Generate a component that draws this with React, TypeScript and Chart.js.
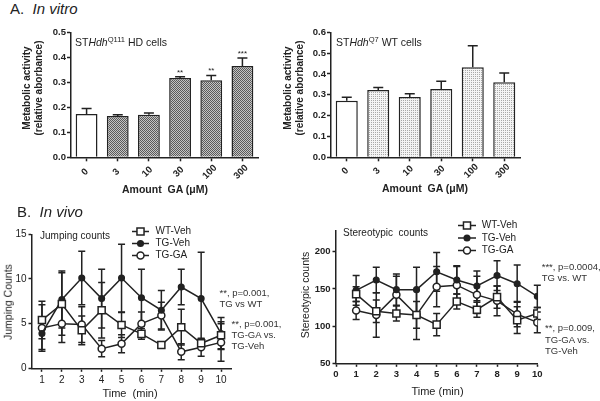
import React, { useEffect, useRef } from "react";
import { Chart, registerables } from "chart.js";

Chart.register(...registerables);

const FONT = "'Liberation Sans', Arial, Helvetica, sans-serif";
const INK = "#222";
Chart.defaults.font.family = FONT;
Chart.defaults.color = INK;

// ---------- Panel A data ----------
const doseLabels = ["0", "3", "10", "30", "100", "300"];
const hdValues = [0.173, 0.165, 0.17, 0.317, 0.308, 0.365];
const hdErrors = [0.022, 0.005, 0.007, 0.005, 0.019, 0.032];
const hdStars = ["", "", "", "**", "**", "***"];
const wtValues = [0.272, 0.323, 0.29, 0.328, 0.432, 0.36];
const wtErrors = [0.016, 0.012, 0.015, 0.037, 0.103, 0.045];

// ---------- Panel B data ----------
const minutes = [1, 2, 3, 4, 5, 6, 7, 8, 9, 10];
const seriesNames = ["WT-Veh", "TG-Veh", "TG-GA"];
const jumpWT = [5.4, 7.2, 4.25, 6.5, 4.85, 3.85, 2.6, 4.6, 2.8, 3.7];
const jumpWTErr = [2.1, 3.5, 1.6, 3.1, 1.4, 0.6, 0.3, 2.0, 0.5, 1.5];
const jumpTG = [3.9, 7.7, 10.1, 7.8, 10.1, 7.9, 6.5, 9.1, 7.8, 3.9];
const jumpTGErr = [1.8, 3.2, 3.0, 3.3, 3.8, 3.2, 2.2, 2.0, 5.2, 1.8];
const jumpGA = [4.5, 5.0, 4.9, 2.2, 2.75, 5.0, 5.9, 1.85, 2.35, 2.9];
const jumpGAErr = [2.6, 2.1, 2.0, 0.9, 1.0, 1.3, 1.5, 0.9, 1.0, 2.1];

const stereoWT = [143, 120, 117, 115, 102, 133, 122, 139, 108, 117];
const stereoWTErr = [10, 15, 10, 18, 15, 10, 10, 15, 18, 8];
const stereoTG = [148, 162, 149, 149, 173, 162, 154, 168, 157, 140];
const stereoTGErr = [20, 17, 21, 30, 26, 19, 20, 20, 25, 15];
const stereoGA = [121, 115, 142, 115, 153, 155, 142, 134, 116, 105];
const stereoGAErr = [12, 30, 25, 33, 27, 25, 25, 20, 17, 14];

const jumpTicksX = [1, 2, 3, 4, 5, 6, 7, 8, 9, 10];
const jumpTicksY = [0, 5, 10, 15];
const stereoTicksX = [0, 1, 2, 3, 4, 5, 6, 7, 8, 9, 10];
const stereoTicksY = [50, 100, 150, 200];

type Frame = { cx: number; cy: number; cw: number; ch: number; L: number; T: number; R: number; B: number };

function frameLayout(f: Frame) {
  return {
    padding: { left: 0, top: f.T - f.cy, right: f.cx + f.cw - f.R, bottom: 0 },
    yWidth: f.L - f.cx,
    xHeight: f.cy + f.ch - f.B,
  };
}

const frameTL: Frame = { cx: 40, cy: 20, cw: 228, ch: 165, L: 71, T: 32.3, R: 258, B: 157.3 };
const frameTR: Frame = { cx: 305, cy: 20, cw: 225, ch: 165, L: 331, T: 32.3, R: 520, B: 157.3 };
const frameBL: Frame = { cx: 0, cy: 215, cw: 240, ch: 186, L: 32, T: 234.3, R: 231, B: 368.3 };
const frameBR: Frame = { cx: 310, cy: 215, cw: 235, ch: 186, L: 336, T: 230.9, R: 537.3, B: 363.3 };

function valueOf(d: any): number {
  return typeof d === "number" ? d : d.y;
}

function drawErrors(chart: any, opts: any) {
  const ctx = chart.ctx;
  const ys = chart.scales.y;
  const cap = opts.cap || 4;
  ctx.save();
  ctx.strokeStyle = INK;
  ctx.lineWidth = 1.5;
  chart.data.datasets.forEach((ds: any, di: number) => {
    const errs = ds.errors;
    if (!errs) return;
    const meta = chart.getDatasetMeta(di);
    meta.data.forEach((el: any, i: number) => {
      const v = valueOf(ds.data[i]);
      const e = errs[i];
      const x = el.x;
      const yTop = ys.getPixelForValue(v + e);
      const yBot = opts.mode === "up" ? ys.getPixelForValue(v) : ys.getPixelForValue(v - e);
      ctx.beginPath();
      ctx.moveTo(x, yTop);
      ctx.lineTo(x, yBot);
      ctx.moveTo(x - cap, yTop);
      ctx.lineTo(x + cap, yTop);
      if (opts.mode !== "up") {
        ctx.moveTo(x - cap, yBot);
        ctx.lineTo(x + cap, yBot);
      }
      ctx.stroke();
    });
  });
  ctx.restore();
}

const errorBarPlugin = {
  id: "errorBars",
  beforeDatasetsDraw(chart: any, _a: any, opts: any) {
    if (opts && opts.mode === "both") drawErrors(chart, opts);
  },
  afterDatasetsDraw(chart: any, _a: any, opts: any) {
    if (opts && opts.mode === "up") drawErrors(chart, opts);
  },
};

const rotLabelPlugin = {
  id: "rotLabels",
  afterDraw(chart: any, _a: any, opts: any) {
    if (!opts || opts.y == null) return;
    const ctx = chart.ctx;
    const xs = chart.scales.x;
    ctx.save();
    ctx.font = `bold 9.5px ${FONT}`;
    ctx.fillStyle = INK;
    ctx.textAlign = "center";
    ctx.textBaseline = "middle";
    (chart.data.labels as string[]).forEach((lab, i) => {
      const x = xs.getPixelForValue(i) - 1.5;
      ctx.save();
      ctx.translate(x, opts.y);
      ctx.rotate(-Math.PI / 4);
      ctx.fillText(lab, 0, 0);
      ctx.restore();
    });
    ctx.restore();
  },
};

const starPlugin = {
  id: "stars",
  afterDraw(chart: any, _a: any, opts: any) {
    if (!opts || !opts.labels) return;
    const ctx = chart.ctx;
    const ys = chart.scales.y;
    const ds = chart.data.datasets[0];
    const meta = chart.getDatasetMeta(0);
    ctx.save();
    ctx.font = `8px ${FONT}`;
    ctx.fillStyle = INK;
    ctx.textAlign = "center";
    ctx.textBaseline = "middle";
    meta.data.forEach((el: any, i: number) => {
      const s = opts.labels[i];
      if (!s) return;
      const y = ys.getPixelForValue(ds.data[i] + ds.errors[i]) - 4.5;
      ctx.fillText(s, el.x, y);
    });
    ctx.restore();
  },
};

function drawMarker(ctx: CanvasRenderingContext2D, style: string, x: number, y: number, r: number, fill: string) {
  ctx.beginPath();
  if (style === "rect") {
    const s = r * Math.SQRT1_2;
    ctx.rect(x - s, y - s, 2 * s, 2 * s);
  } else {
    ctx.arc(x, y, r, 0, Math.PI * 2);
  }
  ctx.fillStyle = fill;
  ctx.fill();
  ctx.stroke();
}

const legendPlugin = {
  id: "markLegend",
  afterDraw(chart: any, _a: any, opts: any) {
    if (!opts || !opts.rows) return;
    const ctx = chart.ctx;
    ctx.save();
    ctx.strokeStyle = INK;
    ctx.lineWidth = 1.5;
    ctx.font = `10px ${FONT}`;
    ctx.textBaseline = "middle";
    ctx.textAlign = "left";
    opts.rows.forEach((y: number, i: number) => {
      const ds = chart.data.datasets[i];
      ctx.beginPath();
      ctx.moveTo(opts.x0, y);
      ctx.lineTo(opts.x1, y);
      ctx.stroke();
      drawMarker(ctx, ds.pointStyle, (opts.x0 + opts.x1) / 2, y, ds.pointRadius, ds.pointBackgroundColor);
      ctx.fillStyle = INK;
      ctx.fillText(ds.label, opts.tx, y);
    });
    ctx.restore();
  },
};

function makePattern(ctx: CanvasRenderingContext2D, cells: string[][]) {
  const c = document.createElement("canvas");
  c.height = cells.length;
  c.width = cells[0].length;
  const g = c.getContext("2d")!;
  cells.forEach((row, y) =>
    row.forEach((col, x) => {
      g.fillStyle = col;
      g.fillRect(x, y, 1, 1);
    })
  );
  return ctx.createPattern(c, "repeat");
}

function barConfig(f: Frame, values: number[], errors: number[], maxY: number, fill: any, stars: string[] | null, rotY: number) {
  const lay = frameLayout(f);
  return {
    type: "bar",
    data: {
      labels: doseLabels,
      datasets: [
        {
          data: values,
          errors,
          backgroundColor: values.map((_, i) => (i === 0 ? "#ffffff" : fill)),
          borderColor: INK,
          borderWidth: 1.5,
          barPercentage: 0.7,
          categoryPercentage: 1,
        },
      ],
    },
    options: {
      responsive: false,
      animation: false,
      events: [],
      layout: { padding: lay.padding },
      plugins: {
        legend: { display: false },
        tooltip: { enabled: false },
        errorBars: { mode: "up", cap: 5 },
        rotLabels: { y: rotY },
        stars: stars ? { labels: stars } : {},
      },
      scales: {
        x: {
          type: "category",
          offset: true,
          grid: { display: true, drawOnChartArea: false, offset: false, tickLength: 4, tickColor: INK, tickWidth: 1.5 },
          border: { color: INK, width: 1.5 },
          ticks: { display: false },
          afterFit: (s: any) => {
            s.height = lay.xHeight;
          },
        },
        y: {
          min: 0,
          max: maxY,
          ticks: {
            stepSize: 0.1,
            font: { size: 9.5, weight: "bold", family: FONT },
            color: INK,
            padding: 1,
            callback: (v: any) => Number(v).toFixed(1),
          },
          grid: { drawOnChartArea: false, tickLength: 4, tickColor: INK, tickWidth: 1.5 },
          border: { color: INK, width: 1.5 },
          afterFit: (s: any) => {
            s.width = lay.yWidth;
          },
        },
      },
    },
    plugins: [errorBarPlugin, rotLabelPlugin, starPlugin],
  };
}

function lineConfig(
  f: Frame,
  vals: number[][],
  errs: number[][],
  x: { min: number; max: number; ticks: number[] },
  y: { min: number; max: number; ticks: number[] },
  bold: boolean,
  fontSize: number,
  legend: any
) {
  const lay = frameLayout(f);
  const styles = [
    { pointStyle: "rect", pointRadius: 5, pointBackgroundColor: "#ffffff" },
    { pointStyle: "circle", pointRadius: 2.8, pointBackgroundColor: INK },
    { pointStyle: "circle", pointRadius: 3.5, pointBackgroundColor: "#ffffff" },
  ];
  const tickFont = { size: fontSize, weight: bold ? "bold" : "normal", family: FONT };
  return {
    type: "line",
    data: {
      datasets: vals.map((arr, k) => ({
        label: seriesNames[k],
        data: minutes.map((m, i) => ({ x: m, y: arr[i] })),
        errors: errs[k],
        borderColor: INK,
        borderWidth: 1.5,
        pointBorderColor: INK,
        pointBorderWidth: 1.5,
        fill: false,
        tension: 0,
        ...styles[k],
      })),
    },
    options: {
      responsive: false,
      animation: false,
      events: [],
      layout: { padding: lay.padding },
      plugins: {
        legend: { display: false },
        tooltip: { enabled: false },
        errorBars: { mode: "both", cap: 3.5 },
        markLegend: legend,
      },
      scales: {
        x: {
          type: "linear",
          min: x.min,
          max: x.max,
          afterBuildTicks: (s: any) => {
            s.ticks = x.ticks.map((v) => ({ value: v }));
          },
          ticks: { font: tickFont, color: INK, padding: 2, maxRotation: 0, autoSkip: false, callback: (v: any) => String(v) },
          grid: { drawOnChartArea: false, tickLength: 3.5, tickColor: INK, tickWidth: 1.5 },
          border: { color: INK, width: 1.5 },
          afterFit: (s: any) => {
            s.height = lay.xHeight;
          },
        },
        y: {
          min: y.min,
          max: y.max,
          afterBuildTicks: (s: any) => {
            s.ticks = y.ticks.map((v) => ({ value: v }));
          },
          ticks: { font: tickFont, color: INK, padding: 2, autoSkip: false, callback: (v: any) => String(v) },
          grid: { drawOnChartArea: false, tickLength: 3.5, tickColor: INK, tickWidth: 1.5 },
          border: { color: INK, width: 1.5 },
          afterFit: (s: any) => {
            s.width = lay.yWidth;
          },
        },
      },
    },
    plugins: [errorBarPlugin, legendPlugin],
  };
}

function ChartCanvas({ frame, build }: { frame: Frame; build: (ctx: CanvasRenderingContext2D) => any }) {
  const ref = useRef<HTMLCanvasElement>(null);
  useEffect(() => {
    const canvas = ref.current!;
    const ctx = canvas.getContext("2d")!;
    const chart = new Chart(canvas, build(ctx));
    return () => chart.destroy();
  }, []);
  return (
    <canvas
      ref={ref}
      width={frame.cw}
      height={frame.ch}
      style={{ position: "absolute", left: frame.cx, top: frame.cy, width: frame.cw, height: frame.ch }}
    />
  );
}

type TProps = {
  x: number;
  y: number;
  size: number;
  bold?: boolean;
  center?: boolean;
  rotate?: boolean;
  color?: string;
  children: React.ReactNode;
};

function Txt({ x, y, size, bold, center, rotate, color, children }: TProps) {
  let transform = center || rotate ? "translate(-50%, -50%)" : "translate(0, -50%)";
  if (rotate) transform += " rotate(-90deg)";
  return (
    <div
      style={{
        position: "absolute",
        left: x,
        top: y,
        fontSize: size,
        lineHeight: 1,
        fontWeight: bold ? "bold" : "normal",
        whiteSpace: "nowrap",
        color: color || INK,
        transform,
        fontFamily: FONT,
        zIndex: 2,
      }}
    >
      {children}
    </div>
  );
}

const Sup = ({ children }: { children: React.ReactNode }) => (
  <span style={{ fontSize: "0.72em", position: "relative", top: "-0.5em" }}>{children}</span>
);

export default function App() {
  useEffect(() => {
    document.body.style.margin = "0";
  }, []);
  return (
    <div
      style={{
        position: "fixed",
        left: 0,
        top: 0,
        width: 600,
        height: 401,
        background: "#fff",
        overflow: "hidden",
        fontFamily: FONT,
      }}
    >
      <ChartCanvas
        frame={frameTL}
        build={(ctx) =>
          barConfig(
            frameTL,
            hdValues,
            hdErrors,
            0.5,
            makePattern(ctx, [
              ["#5a5a5a", "#c4c4c4"],
              ["#c4c4c4", "#5a5a5a"],
            ]),
            hdStars,
            172 - frameTL.cy
          )
        }
      />
      <ChartCanvas
        frame={frameTR}
        build={(ctx) =>
          barConfig(
            frameTR,
            wtValues,
            wtErrors,
            0.6,
            makePattern(ctx, [
              ["#a8a8a8", "#f4f4f4"],
              ["#f4f4f4", "#f4f4f4"],
            ]),
            null,
            171 - frameTR.cy
          )
        }
      />
      <ChartCanvas
        frame={frameBL}
        build={() =>
          lineConfig(
            frameBL,
            [jumpWT, jumpTG, jumpGA],
            [jumpWTErr, jumpTGErr, jumpGAErr],
            { min: 0.5, max: 10.5, ticks: jumpTicksX },
            { min: 0, max: 15, ticks: jumpTicksY },
            false,
            10,
            { rows: [231.5 - 215, 243.5 - 215, 255.5 - 215], x0: 132, x1: 149, tx: 155.5 }
          )
        }
      />
      <ChartCanvas
        frame={frameBR}
        build={() =>
          lineConfig(
            frameBR,
            [stereoWT, stereoTG, stereoGA],
            [stereoWTErr, stereoTGErr, stereoGAErr],
            { min: 0, max: 10, ticks: stereoTicksX },
            { min: 50, max: 228, ticks: stereoTicksY },
            true,
            9.5,
            { rows: [225.5 - 215, 238 - 215, 250.5 - 215], x0: 458 - 310, x1: 476 - 310, tx: 481.7 - 310 }
          )
        }
      />

      {/* Panel headings */}
      <Txt x={10} y={8} size={15}>
        A.{"\u00a0\u00a0"}
        <i>In vitro</i>
      </Txt>
      <Txt x={17} y={211} size={15}>
        B.{"\u00a0\u00a0"}
        <i>In vivo</i>
      </Txt>

      {/* Panel A texts */}
      <Txt x={75} y={42} size={10.5}>
        ST<i>Hdh</i>
        <Sup>Q111</Sup> HD cells
      </Txt>
      <Txt x={336} y={42} size={10.5}>
        ST<i>Hdh</i>
        <Sup>Q7</Sup> WT cells
      </Txt>
      <Txt x={27} y={88} size={10} bold rotate>
        Metabolic activity
      </Txt>
      <Txt x={38.5} y={88} size={10} bold rotate>
        (relative aborbance)
      </Txt>
      <Txt x={288} y={88} size={10} bold rotate>
        Metabolic activity
      </Txt>
      <Txt x={299.5} y={88} size={10} bold rotate>
        (relative aborbance)
      </Txt>
      <Txt x={165} y={188.5} size={10.5} bold center>
        Amount{"\u00a0\u00a0"}GA (μM)
      </Txt>
      <Txt x={425} y={188} size={10.5} bold center>
        Amount{"\u00a0\u00a0"}GA (μM)
      </Txt>

      {/* Panel B texts */}
      <Txt x={40} y={235.5} size={10}>
        Jumping counts
      </Txt>
      <Txt x={343} y={232.5} size={10}>
        Stereotypic{"\u00a0\u00a0"}counts
      </Txt>
      <Txt x={7.5} y={302} size={10.5} rotate>
        Jumping Counts
      </Txt>
      <Txt x={305} y={295} size={10.5} rotate>
        Stereotypic counts
      </Txt>
      <Txt x={130} y={393} size={11} center>
        Time{"\u00a0\u00a0"}(min)
      </Txt>
      <Txt x={437.5} y={390.5} size={11} center>
        Time (min)
      </Txt>

      <Txt x={219.5} y={293.3} size={9.5} color="#333">
        **, p=0.001,
      </Txt>
      <Txt x={219.5} y={303.5} size={9.5} color="#333">
        TG vs WT
      </Txt>
      <Txt x={231.5} y={323.5} size={9.5} color="#333">
        **, p=0.001,
      </Txt>
      <Txt x={231.5} y={335} size={9.5} color="#333">
        TG-GA vs.
      </Txt>
      <Txt x={231.5} y={346} size={9.5} color="#333">
        TG-Veh
      </Txt>

      <Txt x={541.7} y={266.5} size={9.5} color="#333">
        ***, p=0.0004,
      </Txt>
      <Txt x={541.7} y={277.5} size={9.5} color="#333">
        TG vs. WT
      </Txt>
      <Txt x={545} y={328} size={9.5} color="#333">
        **, p=0.009,
      </Txt>
      <Txt x={545} y={339.5} size={9.5} color="#333">
        TG-GA vs.
      </Txt>
      <Txt x={545} y={351} size={9.5} color="#333">
        TG-Veh
      </Txt>
    </div>
  );
}
